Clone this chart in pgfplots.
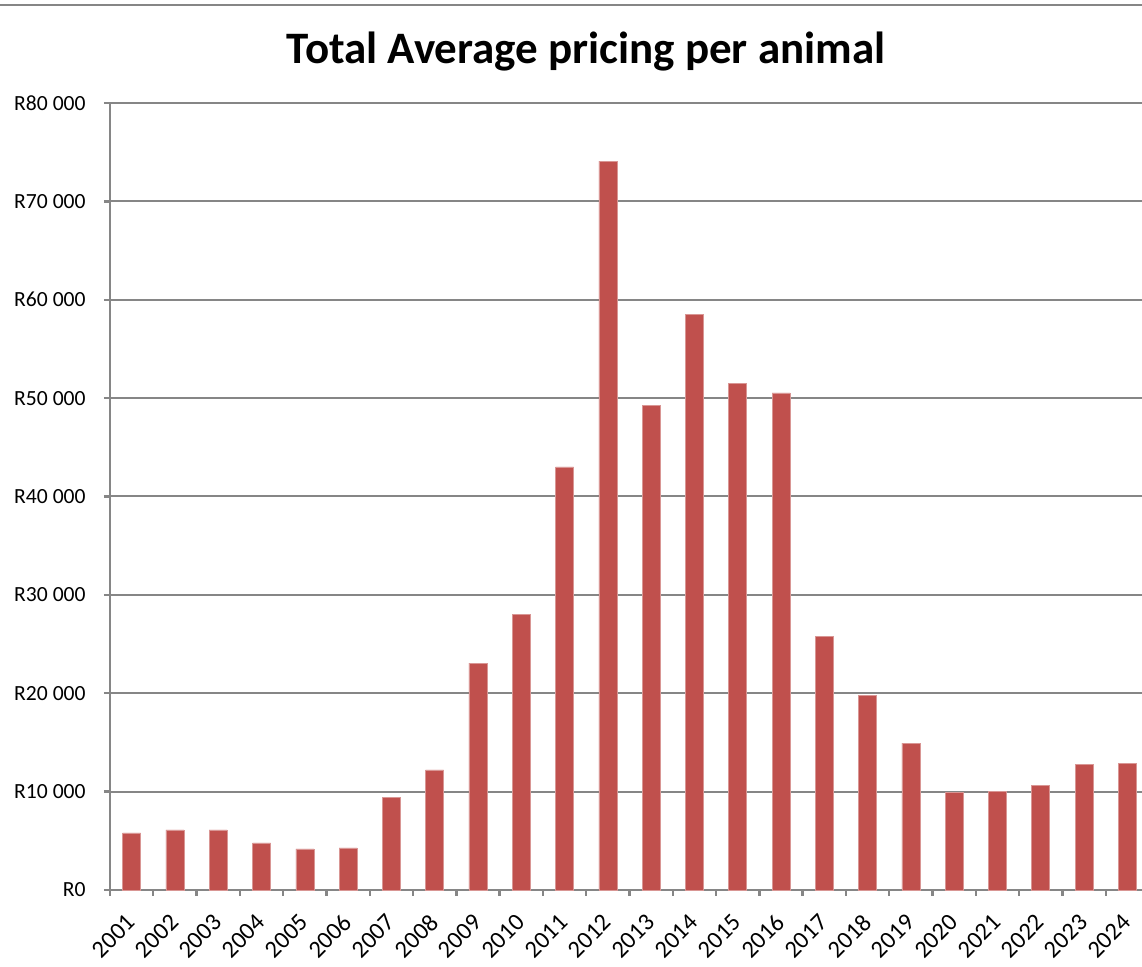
\documentclass[border=0pt]{standalone}
\usepackage{pgfplots}
\pgfplotsset{compat=1.18}
\usepackage{fontspec}
\setmainfont{Carlito}
\definecolor{barred}{HTML}{C0504D}
\definecolor{axgray}{HTML}{868686}
\begin{document}
\begin{tikzpicture}
\useasboundingbox (0,0) rectangle (571pt,483.5pt);
\clip (0,0) rectangle (571pt,483.5pt);
\draw[axgray, line width=1.3pt] (0,481pt) -- (571pt,481pt);
\node[font=\fontsize{22.5}{26}\selectfont\bfseries] at (293pt,457.5pt) {Total Average pricing per animal};
\begin{axis}[
  at={(55pt,38.5pt)}, anchor=south west,
  scale only axis, width=519.5pt, height=393.5pt,
  xmin=-0.5, xmax=23.5, ymin=0, ymax=80000,
  ybar, bar width=9pt,
  axis lines*=left,
  axis line style={axgray, line width=1.2pt},
  xtick={0,...,23},
  xticklabels={2001,2002,2003,2004,2005,2006,2007,2008,2009,2010,2011,2012,2013,2014,2015,2016,2017,2018,2019,2020,2021,2022,2023,2024},
  minor xtick={-0.5,0.5,...,23.5},
  major x tick style={draw=none},
  minor x tick style={axgray, line width=1.2pt},
  minor tick length=3pt,
  ytick={0,10000,...,80000},
  yticklabels={R0,R10 000,R20 000,R30 000,R40 000,R50 000,R60 000,R70 000,R80 000},
  scaled y ticks=false,
  y tick style={axgray, line width=1.2pt},
  major tick length=3pt,
  tick align=outside,
  ymajorgrids, grid style={axgray, line width=1pt},
  x tick label style={font=\fontsize{12.2}{14}\selectfont, xshift=0.5pt, yshift=-10.5pt, rotate=45, anchor=east, inner sep=1pt},
  y tick label style={font=\fontsize{10.8}{12}\selectfont, inner sep=1pt, xshift=-8pt},
  clip=false,
]
\addplot[fill=barred, draw=barred!60!white, line width=0.3pt] coordinates {
(0,5800) (1,6100) (2,6100) (3,4780) (4,4170) (5,4270) (6,9450) (7,12210)
(8,23050) (9,28000) (10,43000) (11,74100) (12,49250) (13,58470) (14,51490)
(15,50540) (16,25770) (17,19770) (18,14940) (19,9960) (20,10060) (21,10670)
(22,12800) (23,12900)};
\end{axis}
\end{tikzpicture}
\end{document}
